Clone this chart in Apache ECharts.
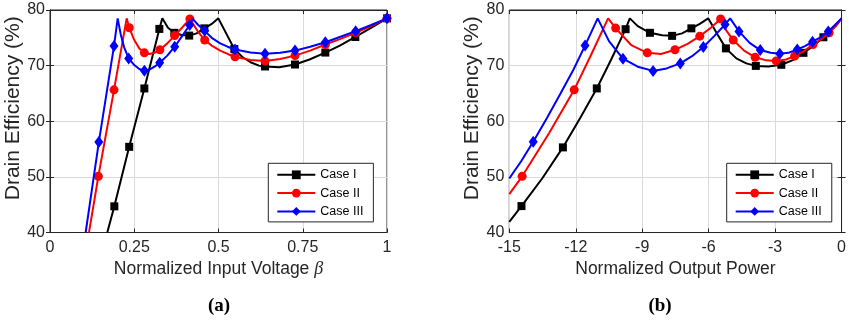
<!DOCTYPE html>
<html>
<head>
<meta charset="utf-8">
<script src="https://cdn.jsdelivr.net/npm/echarts@6/dist/echarts.min.js"></script>
<style>html,body{margin:0;padding:0;background:#fff;}#c{width:849px;height:328px;}</style>
</head>
<body>
<div id="c"></div>
<script>
// ---------- data ----------
const seriesNames = ['Case I', 'Case II', 'Case III'];
const yTicks = [40, 50, 60, 70, 80];
const leftXTicks = [0, 0.25, 0.5, 0.75, 1];
const rightXTicks = [-15, -12, -9, -6, -3, 0];

// (a) efficiency vs normalized input voltage beta
const aX1 = [0.170,0.1909,0.235,0.280,0.3245,0.3333,0.35,0.369,0.39,0.413,0.435,0.458,0.48,0.4995,0.547,0.57,0.595,0.62,0.638,0.68,0.727,0.77,0.817,0.86,0.906,0.95,1.0];
const aY1 = [40,44.7,55.4,65.9,76.6,78.5,76.8,75.9,75.5,75.4,75.8,76.7,77.5,78.5,73.0,71.6,70.6,70.0,69.85,69.7,70.2,71.1,72.35,73.6,75.15,76.7,78.5];
const aM1 = [0.1909,0.235,0.280,0.3245,0.369,0.413,0.458,0.547,0.638,0.727,0.817,0.906,1.0];

const aX2 = [0.1157,0.1434,0.190,0.2275,0.2354,0.25,0.265,0.280,0.295,0.31,0.326,0.348,0.370,0.393,0.415,0.437,0.459,0.48,0.505,0.527,0.549,0.595,0.638,0.683,0.727,0.772,0.817,0.862,0.907,0.953,1.0];
const aY2 = [40,50.1,65.65,78.5,76.8,74.6,73.1,72.3,72.1,72.3,72.85,74.0,75.4,76.9,78.4,76.3,74.6,73.6,72.7,72.1,71.6,71.0,70.85,71.2,71.8,72.7,73.8,74.8,75.9,77.1,78.5];
const aM2 = [0.1434,0.190,0.2354,0.280,0.326,0.370,0.415,0.459,0.549,0.638,0.727,0.817,0.907,1.0];

const aX3 = [0.1058,0.1449,0.190,0.2008,0.21,0.22,0.2335,0.25,0.265,0.280,0.295,0.31,0.3255,0.348,0.370,0.392,0.4145,0.4233,0.44,0.459,0.48,0.505,0.527,0.549,0.595,0.638,0.683,0.727,0.772,0.817,0.862,0.907,0.953,1.0];
const aY3 = [40,56.25,73.55,78.5,75.6,73.3,71.3,70.1,69.4,69.1,69.3,69.8,70.5,71.8,73.4,75.3,77.3,78.4,77.3,76.25,75.0,74.0,73.4,72.9,72.35,72.15,72.3,72.7,73.4,74.2,75.2,76.2,77.3,78.5];
const aM3 = [0.1449,0.190,0.2335,0.280,0.3255,0.370,0.4145,0.459,0.549,0.638,0.727,0.817,0.907,1.0];

// (b) efficiency vs normalized output power (dB)
const bX1 = [-15,-14.45,-13.5,-12.58,-11.8,-11.05,-10.4,-9.75,-9.56,-9.2,-8.65,-8.1,-7.65,-7.2,-6.78,-6.4,-6.02,-5.6,-5.22,-4.75,-4.3,-3.87,-3.3,-2.72,-2.2,-1.72,-1.25,-0.82,-0.4,0];
const bY1 = [41.9,44.75,49.8,55.3,60.6,65.9,71.1,76.55,78.5,77.1,75.9,75.45,75.35,75.8,76.7,77.5,78.5,75.6,73.1,71.3,70.4,69.95,69.85,70.15,71.0,72.3,73.6,75.1,76.7,78.5];
const bM1 = [-14.45,-12.58,-11.05,-9.75,-8.65,-7.65,-6.78,-5.22,-3.87,-2.72,-1.72,-0.82];

const bX2 = [-15,-14.42,-13.2,-12.07,-11.3,-10.54,-10.2,-9.5,-8.77,-8.15,-7.52,-6.95,-6.4,-5.9,-5.46,-5.2,-4.89,-4.4,-3.9,-3.4,-2.95,-2.5,-2.12,-1.7,-1.29,-0.9,-0.56,-0.25,0];
const bY2 = [46.9,50.1,57.9,65.65,72.0,78.5,76.75,73.7,72.3,72.1,72.85,73.9,75.3,76.8,78.4,76.3,74.6,72.7,71.5,70.95,70.85,71.1,71.7,72.6,73.8,74.8,75.9,77.1,78.5];
const bM2 = [-14.42,-12.07,-10.2,-8.77,-7.52,-6.4,-5.46,-4.89,-3.9,-2.95,-2.12,-1.29,-0.56];

const bX3 = [-15,-14.45,-13.92,-13.3,-12.7,-12.1,-11.58,-11.01,-10.5,-9.87,-9.2,-8.51,-7.9,-7.28,-6.75,-6.24,-5.75,-5.26,-5.03,-4.63,-4.15,-3.67,-3.2,-2.79,-2.4,-2.0,-1.65,-1.31,-0.95,-0.6,-0.3,0];
const bY3 = [49.7,52.9,56.3,60.6,64.9,69.3,73.6,78.5,74.4,71.25,69.8,69.05,69.5,70.4,71.7,73.35,75.3,77.4,78.5,76.15,74.1,72.8,72.3,72.15,72.3,72.9,73.5,74.3,75.1,76.15,77.3,78.5];
const bM3 = [-13.92,-11.58,-9.87,-8.51,-7.28,-6.24,-5.26,-4.63,-3.67,-2.79,-2.0,-1.31,-0.6];

// ---------- styling ----------
const colors = ['#000000', '#ff0000', '#0000ff'];
const symbols = ['rect', 'circle', 'diamond'];
const symbolSizes = [8, 9, [9, 12]];
const axisColor = '#262626';
const font = '"Liberation Sans", Arial, Helvetica, sans-serif';

function build(xs, ys, marks) {
  return xs.map((x, i) => marks.indexOf(x) >= 0 ? {value: [x, ys[i]]} : {value: [x, ys[i]], symbol: 'none'});
}

const chart = echarts.init(document.getElementById('c'), null, {renderer: 'canvas'});

const grids = [
  {left: 50, top: 10, width: 337, height: 222.5, show: true, borderColor: axisColor, borderWidth: 1, backgroundColor: '#fff'},
  {left: 509.3, top: 10, width: 335, height: 222.5, show: true, borderColor: axisColor, borderWidth: 1, backgroundColor: '#fff'}
];

function mainX(gi, min, max, interval, name) {
  return {
    type: 'value', gridIndex: gi, min: min, max: max, interval: interval, position: 'bottom',
    name: name, nameLocation: 'middle', nameGap: 26,
    nameTextStyle: {fontFamily: font, fontSize: 17.5, color: axisColor, rich: {b: {fontFamily: '"Liberation Serif", "DejaVu Serif", serif', fontStyle: 'italic', fontSize: 18, color: axisColor}}},
    axisLine: {show: true, lineStyle: {color: axisColor, width: 1}},
    axisTick: {show: true, inside: true, length: 4, lineStyle: {color: axisColor}},
    axisLabel: {fontFamily: font, fontSize: 16, color: axisColor, margin: 7},
    splitLine: {show: true, lineStyle: {color: '#dadada', width: 1}}
  };
}
function topX(gi, min, max, interval) {
  return {
    type: 'value', gridIndex: gi, min: min, max: max, interval: interval, position: 'top',
    axisLine: {show: true, lineStyle: {color: axisColor}},
    axisTick: {show: true, inside: true, length: 4, lineStyle: {color: axisColor}},
    axisLabel: {show: false}, splitLine: {show: false}
  };
}
function mainY(gi) {
  return {
    type: 'value', gridIndex: gi, min: yTicks[0], max: yTicks[yTicks.length - 1], interval: 10, position: 'left',
    name: 'Drain Efficiency (%)', nameLocation: 'middle', nameGap: 24,
    nameTextStyle: {fontFamily: font, fontSize: 21, color: axisColor, padding: [0, 0, 0, 26]},
    axisLine: {show: true, lineStyle: {color: axisColor, width: 1}},
    axisTick: {show: true, inside: true, length: 4, lineStyle: {color: axisColor}},
    axisLabel: {fontFamily: font, fontSize: 16, color: axisColor, margin: 5},
    splitLine: {show: true, lineStyle: {color: '#dadada', width: 1}}
  };
}
function rightY(gi) {
  return {
    type: 'value', gridIndex: gi, min: yTicks[0], max: yTicks[yTicks.length - 1], interval: 10, position: 'right',
    axisLine: {show: true, lineStyle: {color: axisColor}},
    axisTick: {show: true, inside: true, length: 4, lineStyle: {color: axisColor}},
    axisLabel: {show: false}, splitLine: {show: false}
  };
}

const xAxes = [
  mainX(0, leftXTicks[0], leftXTicks[leftXTicks.length - 1], 0.25, 'Normalized Input Voltage {b|β}'),
  mainX(1, rightXTicks[0], rightXTicks[rightXTicks.length - 1], 3, 'Normalized Output Power'),
  topX(0, leftXTicks[0], leftXTicks[leftXTicks.length - 1], 0.25),
  topX(1, rightXTicks[0], rightXTicks[rightXTicks.length - 1], 3)
];
const yAxes = [mainY(0), mainY(1), rightY(0), rightY(1)];

const aData = [[aX1, aY1, aM1], [aX2, aY2, aM2], [aX3, aY3, aM3]];
const bData = [[bX1, bY1, bM1], [bX2, bY2, bM2], [bX3, bY3, bM3]];

const series = [];
[aData, bData].forEach((set, gi) => {
  set.forEach((d, i) => {
    series.push({
      type: 'line', name: seriesNames[i], xAxisIndex: gi, yAxisIndex: gi,
      data: build(d[0], d[1], d[2]),
      showSymbol: true, showAllSymbol: true,
      symbol: symbols[i], symbolSize: symbolSizes[i],
      itemStyle: {color: colors[i], borderWidth: 0},
      lineStyle: {color: colors[i], width: 2},
      emphasis: {disabled: true}, animation: false, z: 3 + i
    });
  });
});

function legend(left) {
  return {
    data: seriesNames, orient: 'vertical', left: left, top: 163.3,
    itemWidth: 38, itemHeight: 11, itemGap: 5.3,
    padding: [5, 10, 4, 8],
    backgroundColor: '#fff', borderColor: axisColor, borderWidth: 1,
    textStyle: {fontFamily: font, fontSize: 12.5, color: '#000'},
    selectedMode: false
  };
}

chart.setOption({
  animation: false,
  grid: grids,
  xAxis: xAxes,
  yAxis: yAxes,
  legend: [legend(268.3), legend(726.7)],
  series: series,
  graphic: [
    {type: 'text', x: 219, y: 306, style: {text: '(a)', font: 'bold 19px "Liberation Serif", "DejaVu Serif", serif', fill: '#000', align: 'center', verticalAlign: 'middle'}},
    {type: 'text', x: 660, y: 306, style: {text: '(b)', font: 'bold 19px "Liberation Serif", "DejaVu Serif", serif', fill: '#000', align: 'center', verticalAlign: 'middle'}}
  ]
});
</script>
</body>
</html>
